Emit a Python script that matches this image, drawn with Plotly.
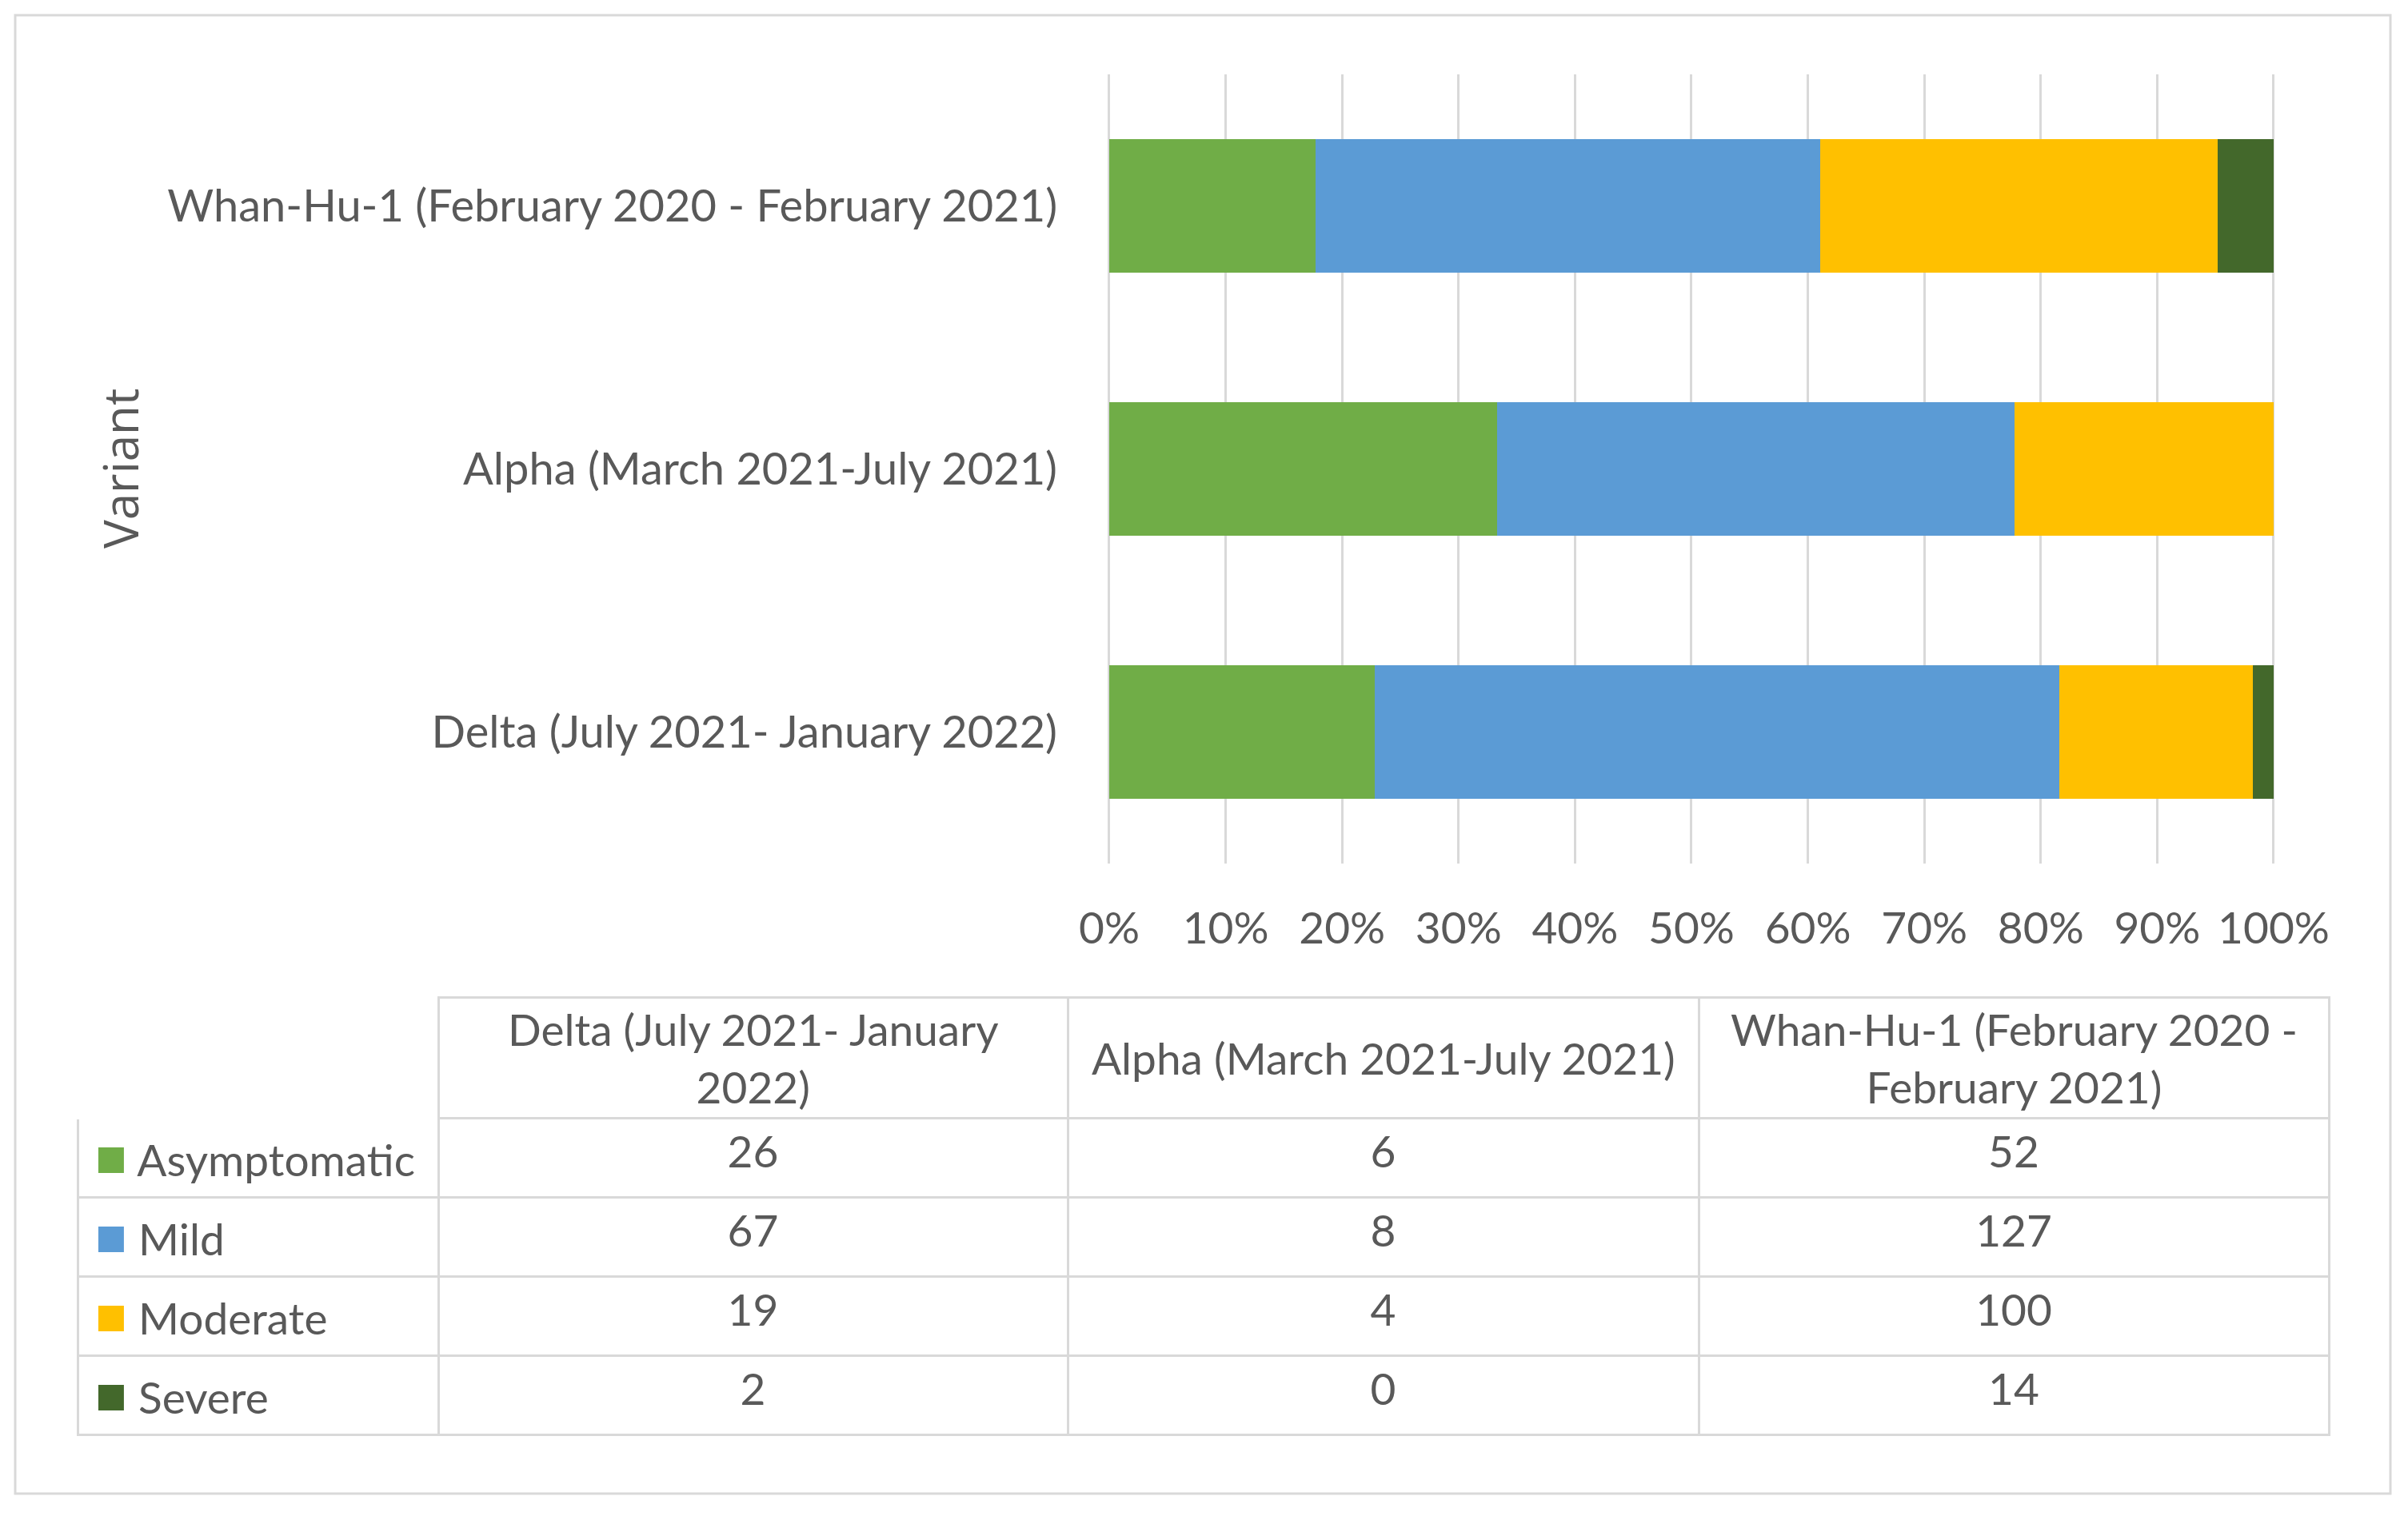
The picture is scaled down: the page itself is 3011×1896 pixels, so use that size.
import plotly.graph_objects as go

# ---- data ----
variants = ["Delta (July 2021- January 2022)",
            "Alpha (March 2021-July 2021)",
            "Whan-Hu-1 (February 2020 - February 2021)"]
header_labels = ["Delta (July 2021- January<br>2022)",
                 "Alpha (March 2021-July 2021)",
                 "Whan-Hu-1 (February 2020 -<br>February 2021)"]
severity = ["Asymptomatic", "Mild", "Moderate", "Severe"]
asymptomatic = [26, 6, 52]
mild = [67, 8, 127]
moderate = [19, 4, 100]
severe = [2, 0, 14]
x_ticks = [0, 10, 20, 30, 40, 50, 60, 70, 80, 90, 100]
x_tick_labels = ["0%", "10%", "20%", "30%", "40%", "50%", "60%", "70%", "80%", "90%", "100%"]
axis_title = "Variant"

# ---- styles / layout geometry (window pixels) ----
colors = ["#70AD47", "#5B9BD5", "#FFC000", "#43682B"]
W, H = 3011, 1896
OFF = 8                      # default page body margin
PW, PH = W - 2 * OFF, H - 2 * OFF
TXT = "#595959"
GRID = "#D9D9D9"
FONT = "Lato"


def px(x):
    return (x - OFF) / PW


def py(y):
    return 1 - (y - OFF) / PH


PLOT_X0, PLOT_X1 = 1387, 2843
PLOT_Y0, PLOT_Y1 = 93, 1080
PAD = 0.2                    # % padding so that 0% / 100% gridlines are drawn
unit = (PLOT_X1 - PLOT_X0) / 100.0
TAB_X0, TAB_Y0 = 97, 1247
col_widths = [451, 787, 789, 788]
HEADER_H, ROW_H = 151, 99

series = [asymptomatic, mild, moderate, severe]

fig = go.Figure()
for name, vals, col in zip(severity, series, colors):
    fig.add_trace(go.Bar(y=variants, x=vals, orientation="h", name=name,
                         marker=dict(color=col, line=dict(width=0)),
                         showlegend=False))

# table
legend_col = [f"\u00A0<span style='color:{c};font-size:66px'>■</span> {s}<br>"
              for s, c in zip(severity, colors)]
columns = [[f"{s[i]}<br>" for s in series] for i in range(len(variants))]
tab_x1 = TAB_X0 + sum(col_widths)
fig.add_trace(go.Table(
    domain=dict(x=[px(TAB_X0), px(tab_x1)], y=[py(1860), py(TAB_Y0)]),
    columnwidth=col_widths,
    header=dict(values=["", "", "", ""], height=HEADER_H,
                fill=dict(color="white"),
                line=dict(color=["white", GRID, GRID, GRID], width=3),
                font=dict(family=FONT, size=55, color=TXT)),
    cells=dict(values=[legend_col] + columns, height=ROW_H,
               fill=dict(color="white"),
               line=dict(color=GRID, width=3),
               align=["left", "center", "center", "center"],
               font=dict(family=FONT, size=55, color=TXT)),
))

# header labels, centred in each header cell
annotations = []
x_left = TAB_X0 + col_widths[0]
for lab, w in zip(header_labels, col_widths[1:]):
    annotations.append(dict(text=lab, x=px(x_left + w / 2), y=py(TAB_Y0 + HEADER_H / 2),
                            xref="paper", yref="paper", showarrow=False,
                            xanchor="center", yanchor="middle", align="center",
                            font=dict(family=FONT, size=55, color=TXT)))
    x_left += w

annotations.append(dict(text=axis_title, textangle=-90, x=px(150), y=py(586),
                        xref="paper", yref="paper", showarrow=False,
                        xanchor="center", yanchor="middle",
                        font=dict(family="Open Sans", size=60, color=TXT)))

fig.update_layout(
    template="none",
    width=PW, height=PH,
    margin=dict(l=0, r=0, t=0, b=0, pad=0),
    paper_bgcolor="white", plot_bgcolor="white",
    barmode="stack", barnorm="percent", bargap=0.49,
    font=dict(family=FONT, color=TXT),
    xaxis=dict(domain=[px(PLOT_X0 - PAD * unit), px(PLOT_X1 + PAD * unit)],
               range=[-PAD, 100 + PAD], automargin=False,
               tickvals=x_ticks, ticktext=x_tick_labels,
               showgrid=True, gridcolor=GRID, gridwidth=3,
               zeroline=False, showline=False, ticks="",
               ticklabelstandoff=44,
               tickfont=dict(family=FONT, size=55, color=TXT), fixedrange=True),
    yaxis=dict(domain=[py(PLOT_Y1), py(PLOT_Y0)], automargin=False,
               showgrid=False, zeroline=False, showline=False, ticks="",
               ticklabelstandoff=61,
               tickfont=dict(family=FONT, size=56, color=TXT), fixedrange=True),
    annotations=annotations,
    shapes=[dict(type="rect", xref="paper", yref="paper",
                 x0=px(19), x1=px(2989), y0=py(1868), y1=py(19),
                 line=dict(color=GRID, width=3), fillcolor="rgba(0,0,0,0)",
                 layer="below")],
)

fig.write_html("out.html")
